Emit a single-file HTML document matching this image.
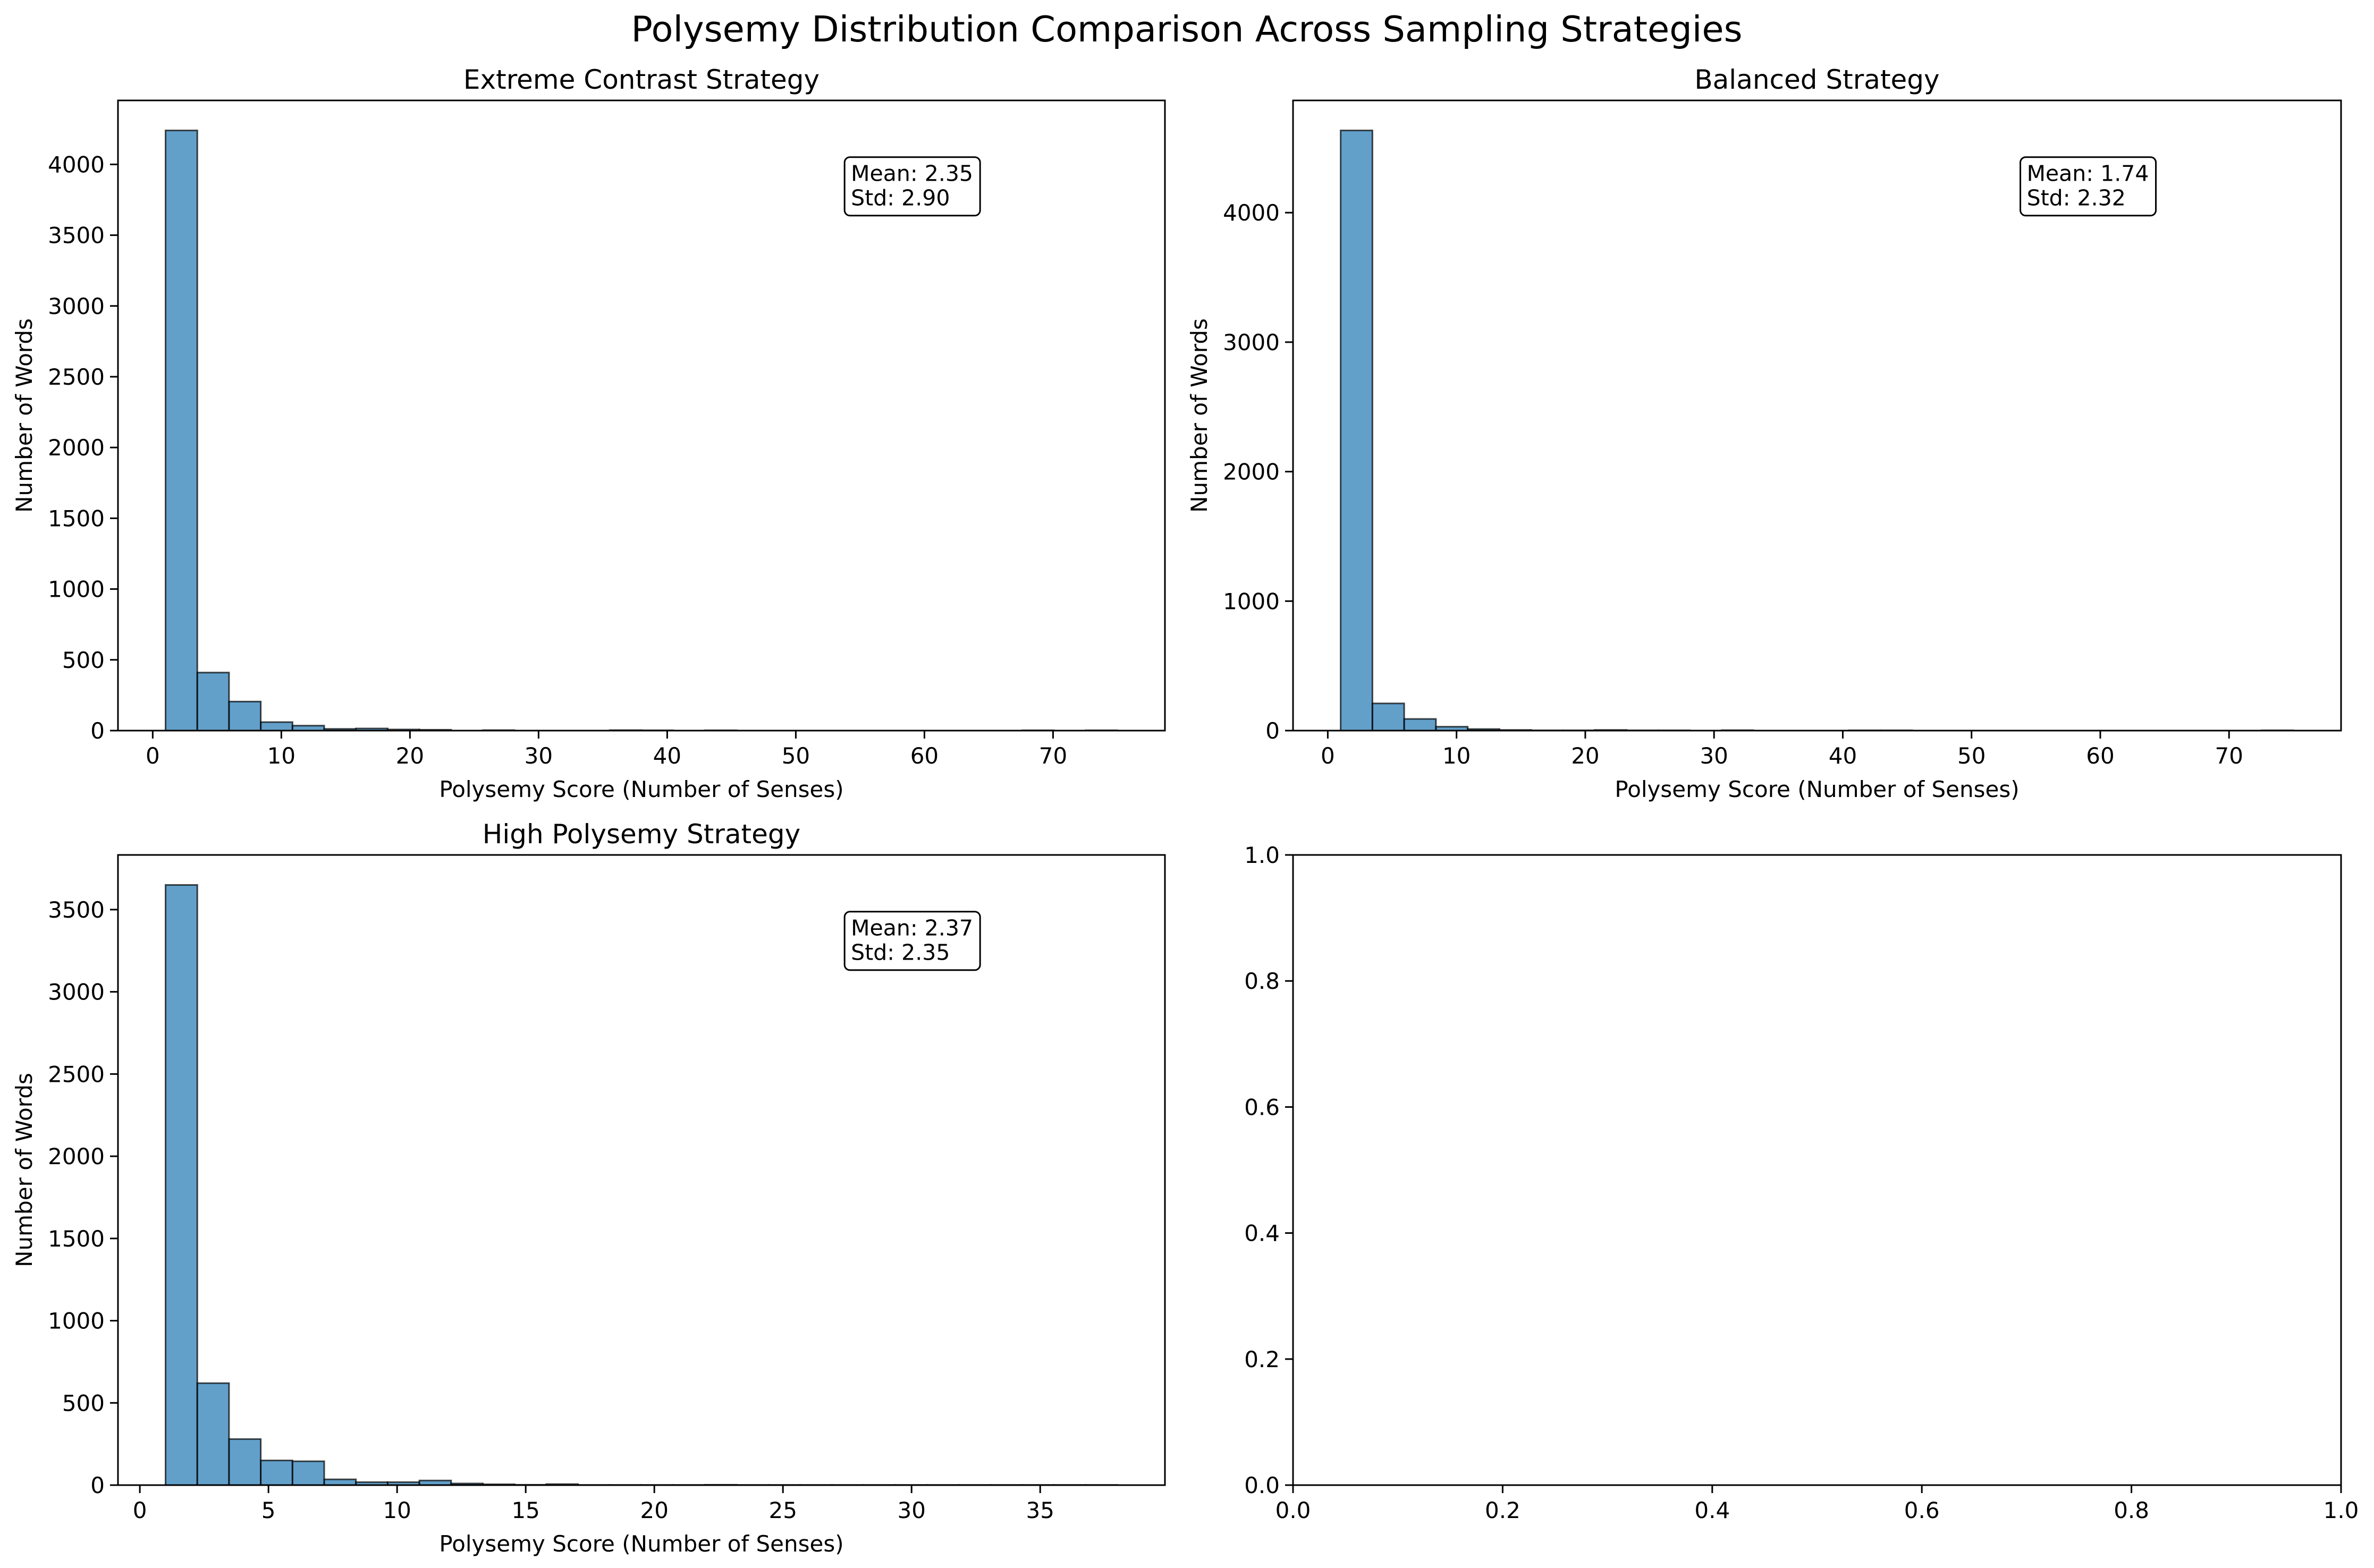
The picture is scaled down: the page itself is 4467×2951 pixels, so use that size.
<!DOCTYPE html>
<html><head><meta charset="utf-8"><style>
html,body{margin:0;padding:0;background:#fff}
svg{display:block}
text{font-family:"DejaVu Sans","Liberation Sans",sans-serif;fill:#000}
</style></head><body>
<svg id="fig" width="4467" height="2951" viewBox="0 0 4467 2951" xmlns="http://www.w3.org/2000/svg">
<rect width="4467" height="2951" fill="#fff"/>
<text x="2233" y="78" font-size="67" text-anchor="middle">Polysemy Distribution Comparison Across Sampling Strategies</text>
</svg>
<script>
// Extreme Contrast: 30 bins over [1,75]
const extremeRange = [1, 75];
const extremeCounts = [4240, 410, 205, 60, 35, 12, 15, 8, 6, 0, 3, 0, 0, 0, 3, 2, 0, 2, 0, 0, 0, 0, 0, 0, 0, 0, 0, 2, 0, 2];
const extremeYTicks = [0, 500, 1000, 1500, 2000, 2500, 3000, 3500, 4000];
const extremeXTicks = [0, 10, 20, 30, 40, 50, 60, 70];
// Balanced: 30 bins over [1,75]
const balancedRange = [1, 75];
const balancedCounts = [4635, 210, 90, 30, 12, 5, 2, 2, 5, 2, 2, 0, 3, 0, 0, 0, 2, 2, 0, 0, 0, 0, 0, 0, 0, 0, 0, 0, 0, 2];
const balancedYTicks = [0, 1000, 2000, 3000, 4000];
const balancedXTicks = [0, 10, 20, 30, 40, 50, 60, 70];
// High Polysemy: 30 bins over [1,38]
const highRange = [1, 38];
const highCounts = [3650, 620, 280, 150, 145, 35, 18, 18, 28, 10, 5, 2, 6, 1, 1, 1, 1, 2, 1, 1, 1, 1, 1, 1, 1, 1, 1, 1, 1, 1];
const highYTicks = [0, 500, 1000, 1500, 2000, 2500, 3000, 3500];
const highXTicks = [0, 5, 10, 15, 20, 25, 30, 35];
const emptyTicks = [0, 0.2, 0.4, 0.6, 0.8, 1.0];
const stats = [["Mean: 2.35", "Std: 2.90"], ["Mean: 1.74", "Std: 2.32"], ["Mean: 2.37", "Std: 2.35"]];

const NS = "http://www.w3.org/2000/svg";
const svg = document.getElementById("fig");
function el(tag, attrs, parent) {
  const e = document.createElementNS(NS, tag);
  for (const k in attrs) e.setAttribute(k, attrs[k]);
  (parent || svg).appendChild(e);
  return e;
}
function panel(box, range, counts, xticks, yticks, title, st, name, decimals) {
  const [L, T, R, B] = box;
  let xdom, ydom;
  if (counts) {
    const m = (range[1] - range[0]) * 0.05;
    xdom = [range[0] - m, range[1] + m];
    ydom = [0, Math.max(...counts) * 1.05];
  } else { xdom = [0, 1]; ydom = [0, 1]; }
  const g = el("g", {});
  
  
  const xs = v => L + (v - xdom[0]) / (xdom[1] - xdom[0]) * (R - L);
  const ys = v => B - (v - ydom[0]) / (ydom[1] - ydom[0]) * (B - T);
  if (counts) {
    const w = (range[1] - range[0]) / counts.length;
    counts.forEach((c, i) => {
      const x0 = xs(range[0] + i * w), x1 = xs(range[0] + (i + 1) * w);
      const r = el("rect", {x: x0, y: ys(c), width: x1 - x0, height: ys(0) - ys(c), fill: "#1f77b4", "fill-opacity": 0.7, stroke: "#000", "stroke-opacity": 0.7, "stroke-width": 3}, g);
      
      
    });
  }
  const fr = el("rect", {x: L, y: T, width: R - L, height: B - T, fill: "none", stroke: "#000", "stroke-width": 3}, g);
  
  
  xticks.forEach(v => {
    const x = xs(v);
    el("line", {x1: x, x2: x, y1: B, y2: B + 15, stroke: "#000", "stroke-width": 3}, g);
    const t = el("text", {x: x, y: B + 62, "font-size": 42, "text-anchor": "middle"}, g);
    t.textContent = decimals ? v.toFixed(1) : v;
    
    
  });
  yticks.forEach(v => {
    const y = ys(v);
    el("line", {x1: L - 15, x2: L, y1: y, y2: y, stroke: "#000", "stroke-width": 3}, g);
    const t = el("text", {x: L - 25, y: y + 15, "font-size": 42, "text-anchor": "end"}, g);
    t.textContent = decimals ? v.toFixed(1) : v;
    
    
  });
  if (title) {
    const t = el("text", {x: (L + R) / 2, y: T - 22, "font-size": 50, "text-anchor": "middle"}, g);
    t.textContent = title;
    
    
    const xl = el("text", {x: (L + R) / 2, y: B + 125, "font-size": 42, "text-anchor": "middle"}, g);
    xl.textContent = "Polysemy Score (Number of Senses)";
    
    
    const yl = el("text", {x: 0, y: 0, "font-size": 42, "text-anchor": "middle", transform: `translate(${L - 162},${(T + B) / 2}) rotate(-90)`}, g);
    yl.textContent = "Number of Words";
    
    
  }
  if (st) {
    const bx = L + 0.694 * (R - L), by = T + 0.09 * (B - T);
    const b = el("rect", {x: bx, y: by, width: 255, height: 110, rx: 10, fill: "#fff", stroke: "#000", "stroke-width": 3}, g);
    
    
    st.forEach((s, i) => {
      const t = el("text", {x: bx + 12, y: by + 45 + i * 46, "font-size": 41}, g);
      t.textContent = s;
      
      
    });
  }
}
panel([222, 189, 2192, 1375], extremeRange, extremeCounts, extremeXTicks, extremeYTicks, "Extreme Contrast Strategy", stats[0], "panel-extreme-contrast");
panel([2433, 189, 4405, 1375], balancedRange, balancedCounts, balancedXTicks, balancedYTicks, "Balanced Strategy", stats[1], "panel-balanced");
panel([222, 1609, 2192, 2795], highRange, highCounts, highXTicks, highYTicks, "High Polysemy Strategy", stats[2], "panel-high-polysemy");
panel([2433, 1609, 4405, 2795], null, null, emptyTicks, emptyTicks, null, null, "panel-empty", true);
</script>
</body></html>
